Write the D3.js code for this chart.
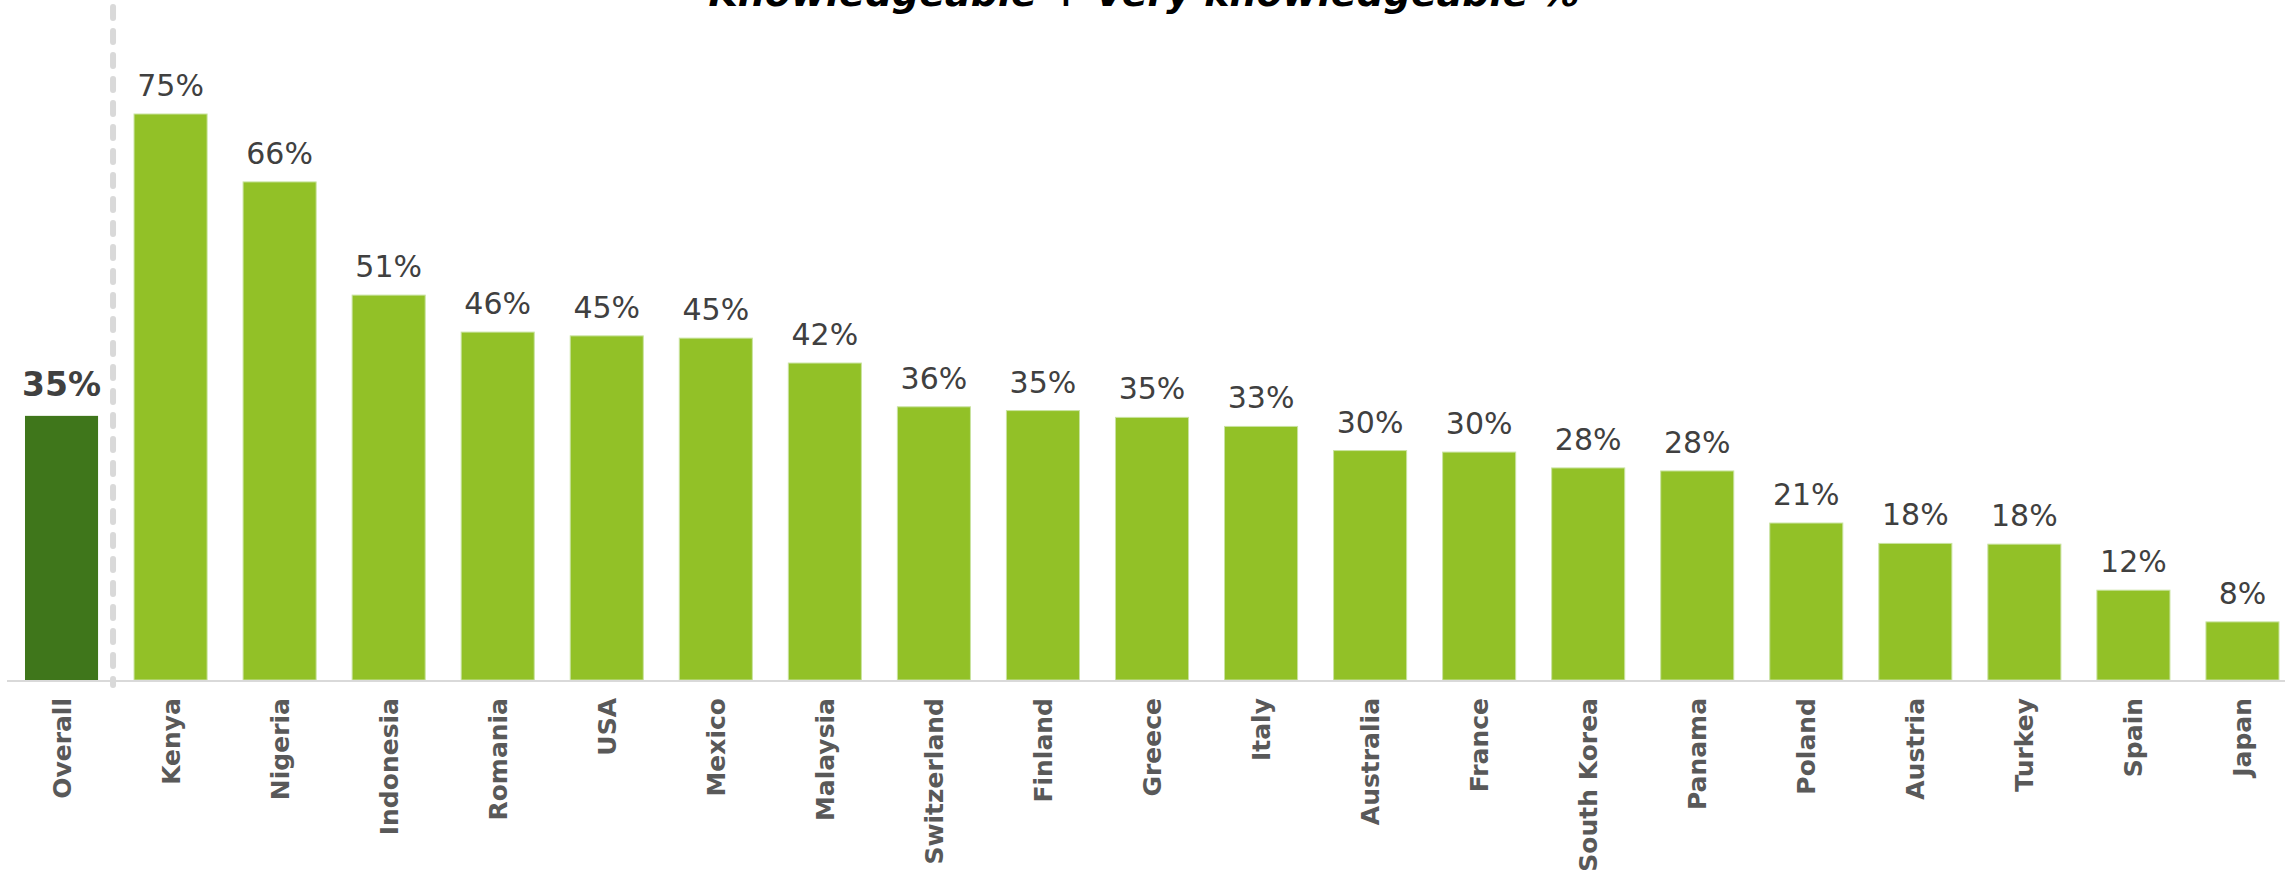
<!DOCTYPE html>
<html>
<head>
<meta charset="utf-8">
<script src="https://cdn.jsdelivr.net/npm/d3@7"></script>
<style>
  html, body { margin: 0; padding: 0; background: #fff; }
  svg { display: block; }
</style>
</head>
<body>
<svg id="chart"></svg>
<script>
const countries = ["Overall", "Kenya", "Nigeria", "Indonesia", "Romania", "USA", "Mexico",
  "Malaysia", "Switzerland", "Finland", "Greece", "Italy", "Australia", "France",
  "South Korea", "Panama", "Poland", "Austria", "Turkey", "Spain", "Japan"];
const values = [35, 75, 66, 51, 46.1, 45.6, 45.3, 42, 36.2, 35.7, 34.8, 33.6, 30.4, 30.2,
  28.1, 27.7, 20.8, 18.1, 18.0, 11.9, 7.7];
const labels = ["35%", "75%", "66%", "51%", "46%", "45%", "45%", "42%", "36%", "35%", "35%",
  "33%", "30%", "30%", "28%", "28%", "21%", "18%", "18%", "12%", "8%"];
const title = "Knowledgeable + Very knowledgeable %";

const W = 2295, H = 871;
const baseY = 680;

const svg = d3.select("#chart").attr("width", W).attr("height", H);

const x = d3.scaleBand()
  .domain(countries)
  .range([7, 2297])
  .paddingInner(0.33)
  .paddingOuter(0.165);

const y = d3.scaleLinear().domain([0, 75]).range([baseY, 114]);

const data = countries.map((c, i) => ({ country: c, value: values[i], label: labels[i] }));

// Titulo (cortado arriba, como en el original)
svg.append("text")
  .attr("x", 1144)
  .attr("y", 6)
  .attr("text-anchor", "middle")
  .attr("font-family", "'DejaVu Sans', sans-serif")
  .attr("font-weight", "bold")
  .attr("font-style", "italic")
  .attr("font-size", "38px")
  .attr("fill", "#000")
  .text(title);

// Barras
svg.selectAll("rect.bar")
  .data(data)
  .join("rect")
  .attr("class", "bar")
  .attr("x", d => x(d.country))
  .attr("y", d => y(d.value))
  .attr("width", x.bandwidth())
  .attr("height", d => baseY - y(d.value))
  .attr("fill", d => d.country === "Overall" ? "#3f761b" : "#92c127")
  .attr("stroke", d => d.country === "Overall" ? "none" : "#c9e3a0")
  .attr("stroke-width", 1);

// Linea base
svg.append("line")
  .attr("x1", 7).attr("x2", 2285)
  .attr("y1", baseY + 1).attr("y2", baseY + 1)
  .attr("stroke", "#d9d9d9")
  .attr("stroke-width", 2);

// Separador punteado
const sepX = (x("Overall") + x.bandwidth() + x("Kenya")) / 2 - 3;
svg.append("line")
  .attr("x1", sepX).attr("x2", sepX)
  .attr("y1", 7).attr("y2", 685)
  .attr("stroke", "#d9d9d9")
  .attr("stroke-width", 6)
  .attr("stroke-linecap", "round")
  .attr("stroke-dasharray", "11,13");

// Etiquetas de valor
svg.selectAll("text.val")
  .data(data)
  .join("text")
  .attr("class", "val")
  .attr("x", d => x(d.country) + x.bandwidth() / 2)
  .attr("y", d => y(d.value) - (d.country === "Overall" ? 20 : 18))
  .attr("text-anchor", "middle")
  .attr("font-family", "'DejaVu Sans', sans-serif")
  .attr("font-weight", d => d.country === "Overall" ? "bold" : "normal")
  .attr("font-size", d => d.country === "Overall" ? "33px" : "30px")
  .attr("fill", "#404040")
  .text(d => d.label);

// Etiquetas de pais
svg.selectAll("text.cat")
  .data(data)
  .join("text")
  .attr("class", "cat")
  .attr("transform", d => `translate(${x(d.country) + x.bandwidth() / 2 + 9},698) rotate(-90)`)
  .attr("text-anchor", "end")
  .attr("font-family", "'DejaVu Sans', sans-serif")
  .attr("font-weight", "bold")
  .attr("font-size", "25px")
  .attr("fill", "#595959")
  .text(d => d.country);
</script>
</body>
</html>
